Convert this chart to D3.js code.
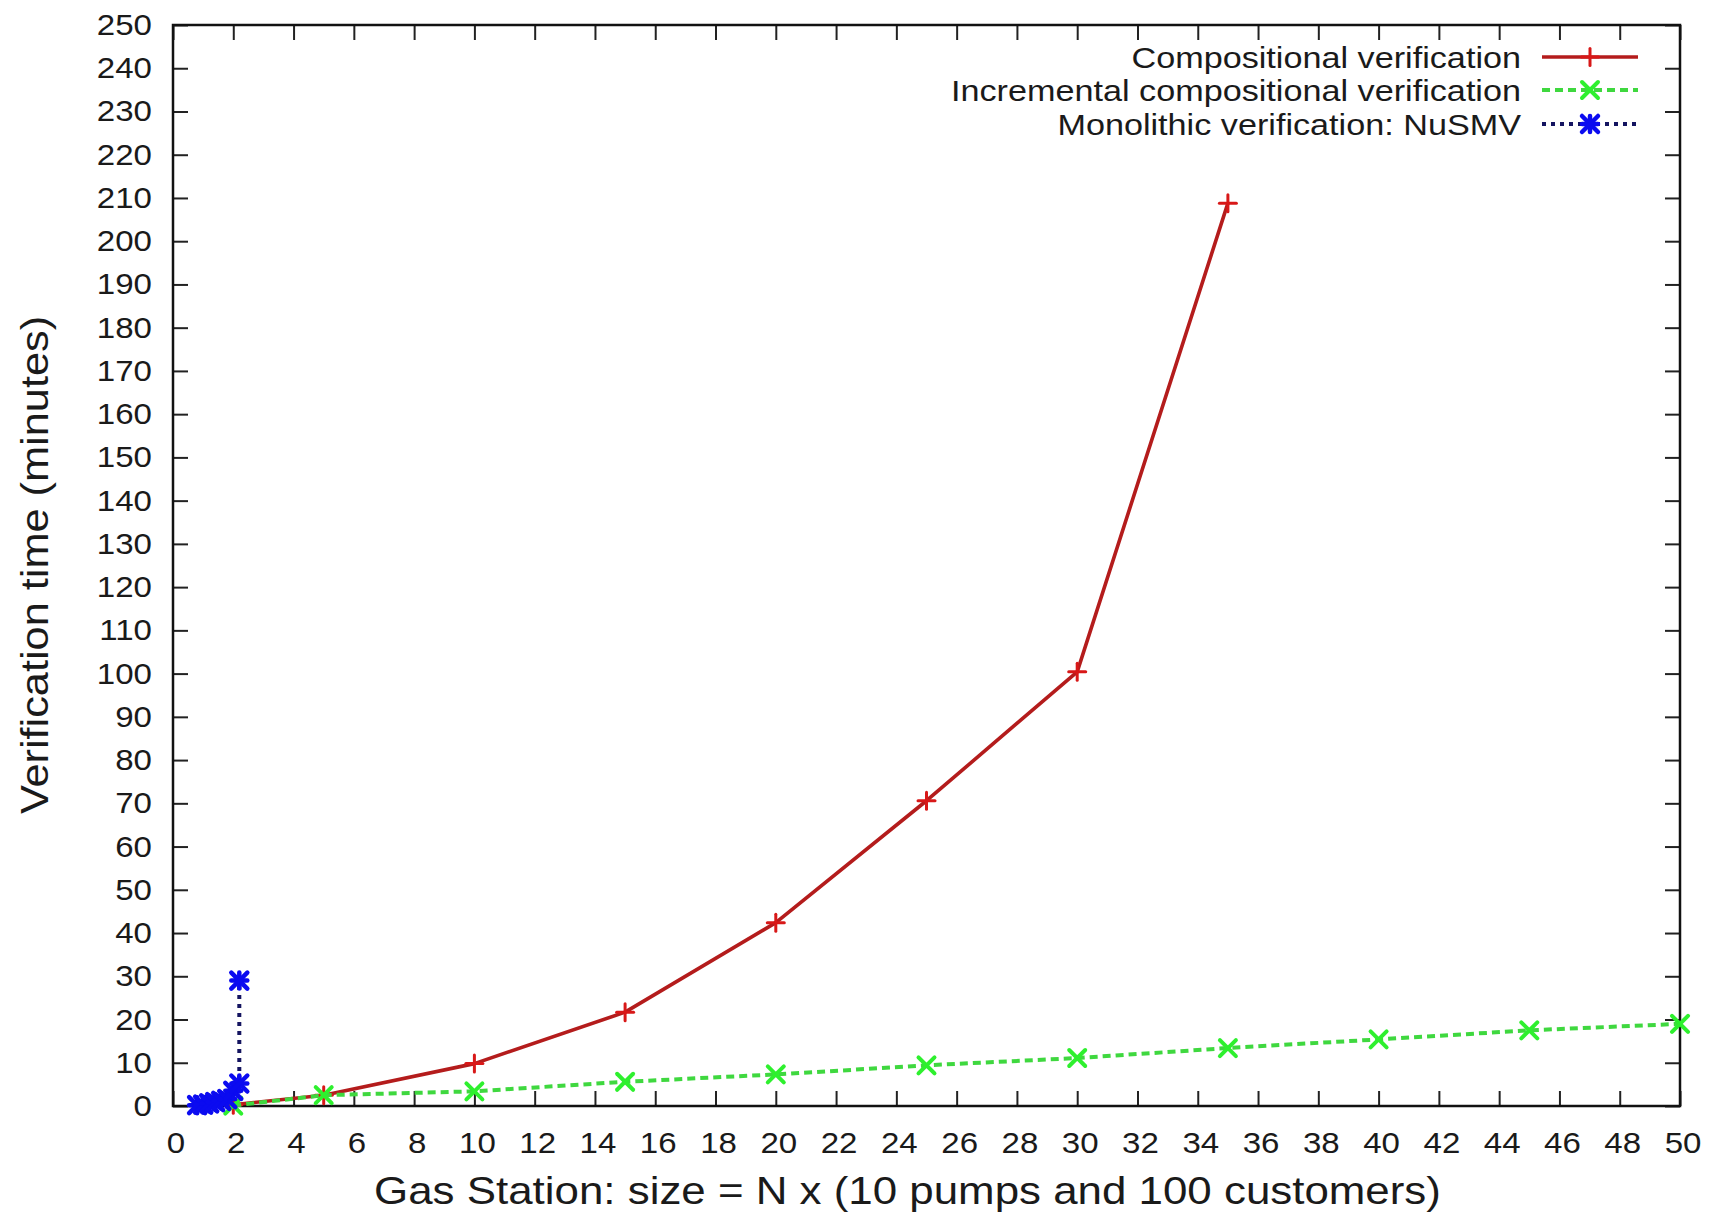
<!DOCTYPE html>
<html>
<head>
<meta charset="utf-8">
<script src="https://cdn.jsdelivr.net/npm/d3@7/dist/d3.min.js"></script>
<style>
  html, body { margin: 0; padding: 0; background: #ffffff; }
  svg { display: block; }
</style>
</head>
<body>
<svg id="chart" width="1710" height="1213"></svg>
<script>
// ---- data ----
const compN   = [2, 5, 10, 15, 20, 25, 30, 35];
const compT   = [0.3, 2.5, 9.8, 21.7, 42.4, 70.6, 100.4, 208.8];

const incN    = [2, 5, 10, 15, 20, 25, 30, 35, 40, 45, 50];
const incT    = [0.1, 2.5, 3.4, 5.6, 7.3, 9.4, 11.1, 13.4, 15.4, 17.5, 19.0];

const monoN   = [0.8, 1.0, 1.2, 1.4, 1.6, 1.8, 2.0, 2.2, 2.2];
const monoT   = [0.2, 0.3, 0.6, 0.9, 1.2, 1.6, 3.5, 5.2, 29.0];

const xTicks = d3.range(0, 51, 2);
const yTicks = d3.range(0, 251, 10);

const seriesNames = [
  "Compositional verification",
  "Incremental compositional verification",
  "Monolithic verification: NuSMV"
];
const xLabel = "Gas Station: size = N x (10 pumps and 100 customers)";
const yLabel = "Verification time (minutes)";

// ---- layout ----
const L = 173, R = 1680, T = 25, B = 1106;
const SX = 1.14;            // horizontal glyph stretch of the original picture
const FONT = "'Liberation Sans', Arial, Helvetica, sans-serif";

const svg = d3.select("#chart");
const x = d3.scaleLinear().domain([0, 50]).range([L, R]);
const y = d3.scaleLinear().domain([0, 250]).range([B, T]);

function stretchedText(g, tx, ty, str, size, anchor, rot) {
  return g.append("text")
    .attr("transform", `translate(${tx},${ty})` + (rot ? ` rotate(${rot})` : "") + ` scale(${SX},1)`)
    .attr("font-family", FONT)
    .attr("font-size", size)
    .attr("fill", "#1a1a1a")
    .attr("text-anchor", anchor)
    .text(str);
}

// ---- axes (gnuplot style: mirrored inward ticks) ----
const tickLen = 15;
const axG = svg.append("g");

const axBottom = d3.axisBottom(x).tickValues(xTicks).tickSizeInner(-tickLen).tickSizeOuter(0).tickFormat("");
const axTop = d3.axisTop(x).tickValues(xTicks).tickSizeInner(-tickLen).tickSizeOuter(0).tickFormat("");
const axLeft = d3.axisLeft(y).tickValues(yTicks).tickSizeInner(-tickLen).tickSizeOuter(0).tickFormat("");
const axRight = d3.axisRight(y).tickValues(yTicks).tickSizeInner(-tickLen).tickSizeOuter(0).tickFormat("");

[[axBottom, `translate(0,${B})`], [axTop, `translate(0,${T})`],
 [axLeft, `translate(${L},0)`], [axRight, `translate(${R},0)`]].forEach(([ax, tr]) => {
  const g = axG.append("g").attr("transform", tr).call(ax);
  g.select(".domain").remove();
  g.selectAll(".tick line").attr("stroke", "#222").attr("stroke-width", 2);
});

axG.append("rect")
  .attr("x", L).attr("y", T).attr("width", R - L).attr("height", B - T)
  .attr("fill", "none").attr("stroke", "#111").attr("stroke-width", 2.5);

// tick labels
const lblG = svg.append("g");
xTicks.forEach(v => stretchedText(lblG, x(v) + 3, 1153, String(v), 29, "middle"));
yTicks.forEach(v => stretchedText(lblG, 152, y(v) + 10, String(v), 29, "end"));

// axis titles
stretchedText(lblG, (x(0) + x(50)) / 2 - 19, 1204, xLabel, 38.5, "middle");
stretchedText(lblG, 48, 565, yLabel, 38, "middle", -90);

// ---- series ----
const line = d3.line().x(d => x(d[0])).y(d => y(d[1]));

const series = [
  { n: compN, t: compT, line: "#b41c1c", mark: "#d81818", dash: null,  width: 3.6, marker: "plus",  ms: 8.5, mw: 3 },
  { n: incN,  t: incT,  line: "#3fd83f", mark: "#2ef02e", dash: "8,5", width: 4,   marker: "cross", ms: 8,   mw: 4 },
  { n: monoN, t: monoT, line: "#141460", mark: "#0b0bf0", dash: "4,5", width: 4,   marker: "star",  ms: 8,   mw: 4.5 }
];

function drawMarker(g, cx, cy, s) {
  const r = s.ms, type = s.marker;
  const segs = [];
  if (type === "plus" || type === "star") {
    segs.push([cx - r, cy, cx + r, cy], [cx, cy - r, cx, cy + r]);
  }
  if (type === "cross" || type === "star") {
    segs.push([cx - r, cy - r, cx + r, cy + r], [cx - r, cy + r, cx + r, cy - r]);
  }
  segs.forEach(([x1, y1, x2, y2]) => g.append("line")
    .attr("x1", x1).attr("y1", y1).attr("x2", x2).attr("y2", y2)
    .attr("stroke", s.mark).attr("stroke-width", s.mw)
    .attr("stroke-linecap", "round"));
}

const plotG = svg.append("g");
series.forEach(s => {
  const pts = s.n.map((v, i) => [v, s.t[i]]);
  plotG.append("path").datum(pts)
    .attr("d", line)
    .attr("fill", "none")
    .attr("stroke", s.line)
    .attr("stroke-width", s.width)
    .attr("stroke-linejoin", "round")
    .attr("stroke-dasharray", s.dash);
  pts.forEach(p => drawMarker(plotG, x(p[0]), y(p[1]), s));
});

// ---- legend ----
const legG = svg.append("g");
const legRows = [57, 90, 124];
series.forEach((s, i) => {
  const yy = legRows[i];
  stretchedText(legG, 1521, yy + 11, seriesNames[i], 30, "end");
  legG.append("line")
    .attr("x1", 1542).attr("x2", 1638).attr("y1", yy).attr("y2", yy)
    .attr("stroke", s.line).attr("stroke-width", s.width)
    .attr("stroke-dasharray", s.dash);
  drawMarker(legG, 1590, yy, s);
});
</script>
</body>
</html>
